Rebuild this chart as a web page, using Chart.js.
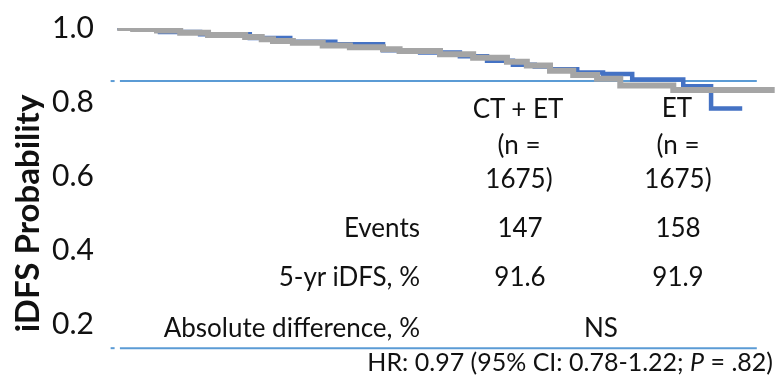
<!DOCTYPE html>
<html lang="en">
<head>
<meta charset="UTF-8">
<title>iDFS: CT + ET vs ET</title>
<script src="https://cdn.jsdelivr.net/npm/chart.js"></script>
<style>
    html, body { margin: 0; padding: 0; background: #fff; width: 780px; height: 387px; overflow: hidden; }
    .wrap { position: relative; width: 780px; height: 427px; }
    canvas { position: absolute; left: 0; top: 0; }
    .t { position: absolute; font-family: Lato, 'Open Sans', sans-serif; font-size: 26px; line-height: 1; color: #111; white-space: nowrap; }
    .c { transform: translate(-50%, -50%); }
    .r { transform: translate(-100%, -50%); }
    .hr { font-size: 25px; }
</style>
</head>
<body>
<div class="wrap">
    <canvas id="kmChart" width="780" height="427"></canvas>

    <div class="t c" style="left:518px; top:108px">CT + ET</div>
    <div class="t c" style="left:519px; top:144px">(n =</div>
    <div class="t c" style="left:519px; top:178px">1675)</div>
    <div class="t c" style="left:677px; top:107px">ET</div>
    <div class="t c" style="left:678px; top:144px">(n =</div>
    <div class="t c" style="left:678px; top:178px">1675)</div>

    <div class="t r" style="left:420px; top:227px">Events</div>
    <div class="t c" style="left:520px; top:227px">147</div>
    <div class="t c" style="left:678px; top:227px">158</div>

    <div class="t r" style="left:420px; top:276px">5-yr iDFS, %</div>
    <div class="t c" style="left:520px; top:276px">91.6</div>
    <div class="t c" style="left:678px; top:276px">91.9</div>

    <div class="t r" style="left:420px; top:327px">Absolute difference, %</div>
    <div class="t c" style="left:601px; top:327px">NS</div>

    <div class="t r hr" style="left:773px; top:361px">HR: 0.97 (95% CI: 0.78-1.22; <i>P</i> = .82)</div>
</div>

<script>
// time axis is not shown; units are months from randomisation
const etTimes = [0, 2.4, 6.0, 9.5, 13.7, 19.3, 21.8, 23.5, 26.5, 31.0, 35.1, 40.1, 42.6, 48.7, 53.7, 58.8, 61.8, 65.3, 68.8, 72.4, 75.9, 83.9, 99.2];
const etSurv  = [1.000, 0.997, 0.993, 0.987, 0.981, 0.976, 0.970, 0.965, 0.960, 0.953, 0.948, 0.943, 0.938, 0.929, 0.920, 0.909, 0.899, 0.885, 0.873, 0.863, 0.845, 0.833, 0.833];

const ctEtTimes = [0, 6.45, 12.5, 20.0, 26.1, 32.9, 40.1, 45.7, 51.7, 55.8, 59.7, 63.0, 65.3, 69.4, 73.3, 77.7, 85.4, 89.6, 94.3];
const ctEtSurv  = [1.000, 0.989, 0.983, 0.973, 0.963, 0.956, 0.940, 0.934, 0.924, 0.912, 0.901, 0.896, 0.889, 0.880, 0.876, 0.861, 0.843, 0.783, 0.783];

// the two rules of the inset table
const tableRuleY = [0.857, 0.137];
const tableRuleX = [0.4, 96.5];
const ruleStubX = [-1.0, -0.4];

const yTickLabels = ['0', '0.2', '0.4', '0.6', '0.8', '1.0'];

function pts(xs, ys) {
    return xs.map((x, i) => ({ x: x, y: ys[i] }));
}

function ruleSets(y) {
    return [
        { data: pts(tableRuleX, [y, y]), borderColor: '#5b9bd5', borderWidth: 2, pointRadius: 0, fill: false },
        { data: pts(ruleStubX, [y, y]), borderColor: '#5b9bd5', borderWidth: 2, pointRadius: 0, fill: false }
    ];
}

new Chart(document.getElementById('kmChart'), {
    type: 'line',
    data: {
        datasets: [
            {
                label: 'ET',
                data: pts(etTimes, etSurv),
                stepped: true,
                borderColor: '#a5a5a5',
                borderWidth: 6,
                pointRadius: 0,
                fill: false,
                borderJoinStyle: 'miter'
            },
            {
                label: 'CT + ET',
                data: pts(ctEtTimes, ctEtSurv),
                stepped: true,
                borderColor: '#4472c4',
                borderWidth: 4.5,
                pointRadius: 0,
                fill: false,
                borderJoinStyle: 'miter'
            },
            ...ruleSets(tableRuleY[0]),
            ...ruleSets(tableRuleY[1])
        ]
    },
    options: {
        responsive: false,
        devicePixelRatio: 1,
        animation: false,
        layout: { padding: { top: 28, right: 0, bottom: 20.5, left: 0 } },
        plugins: {
            legend: { display: false },
            tooltip: { enabled: false }
        },
        scales: {
            x: {
                type: 'linear',
                min: -2,
                max: 100,
                display: false
            },
            y: {
                min: 0,
                max: 1,
                grid: { display: false, drawTicks: false },
                border: { display: false },
                ticks: {
                    stepSize: 0.2,
                    padding: 10,
                    color: '#111',
                    font: { family: 'Lato', size: 30 },
                    callback: (v, i) => yTickLabels[i]
                },
                title: {
                    display: true,
                    text: 'iDFS Probability',
                    color: '#111',
                    font: { family: 'Lato', size: 33, weight: 'bold' },
                    padding: { top: 9, bottom: 0 }
                },
                afterFit: (scale) => { scale.width = 104; }
            }
        }
    }
});
</script>
</body>
</html>
